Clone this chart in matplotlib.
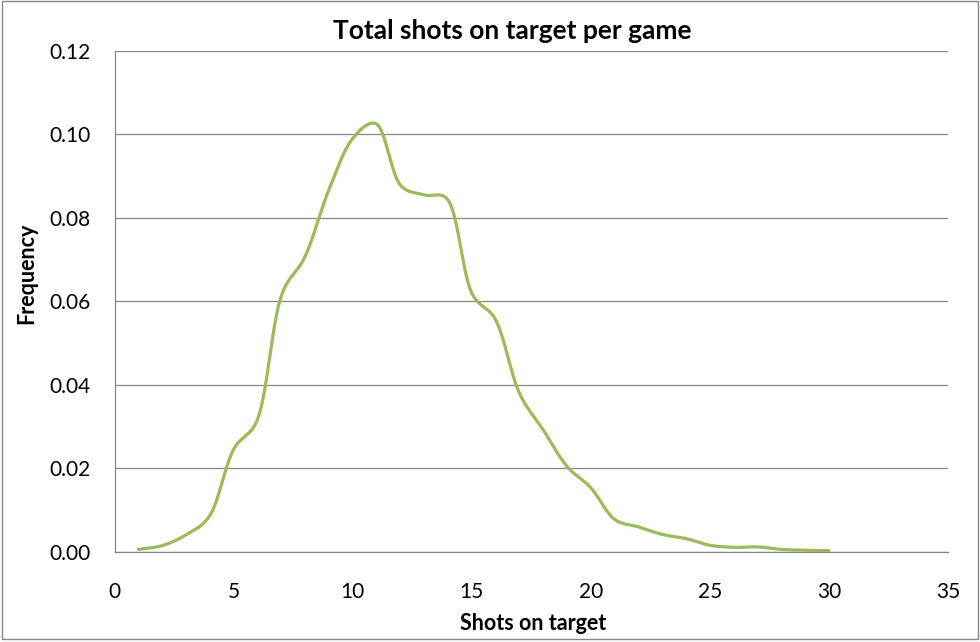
import numpy as np
import matplotlib
matplotlib.use("Agg")
import matplotlib.pyplot as plt
from matplotlib.patches import Rectangle

# ---- data ----
shots = [1, 2, 3, 4, 5, 6, 7, 8, 9, 10, 11, 12, 13, 14, 15,
         16, 17, 18, 19, 20, 21, 22, 23, 24, 25, 26, 27, 28, 29, 30]
frequency = [0.0005, 0.0014, 0.0040, 0.0086, 0.0245, 0.0316, 0.0612, 0.0707,
             0.0867, 0.0990, 0.1025, 0.0879, 0.0855, 0.0843, 0.0620,
             0.0556, 0.0380, 0.0292, 0.0204, 0.0153, 0.0077, 0.0059,
             0.0041, 0.0031, 0.0015, 0.0010, 0.0011, 0.0005, 0.0003, 0.0002]
x_ticks = [0, 5, 10, 15, 20, 25, 30, 35]
y_ticks = [0.00, 0.02, 0.04, 0.06, 0.08, 0.10, 0.12]

title = "Total shots on target per game"
x_label = "Shots on target"
y_label = "Frequency"


def smooth(xs, ys, sx=23.8, sy=4175.0, n=40, alpha=0.3):
    """Catmull-Rom smoothing in screen-like space (Excel-like)."""
    P = np.column_stack([np.asarray(xs, float) * sx, np.asarray(ys, float) * sy])
    first = 2 * P[0] - P[1]
    last = 2 * P[-1] - P[-2]
    P = np.vstack([first, P, last])
    t = np.linspace(0, 1, n, endpoint=False)[:, None]
    out = []
    for i in range(1, len(P) - 2):
        p0, p1, p2, p3 = P[i - 1], P[i], P[i + 1], P[i + 2]
        d01 = max(np.linalg.norm(p1 - p0) ** alpha, 1e-9)
        d12 = max(np.linalg.norm(p2 - p1) ** alpha, 1e-9)
        d23 = max(np.linalg.norm(p3 - p2) ** alpha, 1e-9)
        m1 = ((p1 - p0) / d01 - (p2 - p0) / (d01 + d12) + (p2 - p1) / d12) * d12
        m2 = ((p2 - p1) / d12 - (p3 - p1) / (d12 + d23) + (p3 - p2) / d23) * d12
        c1 = p1 + m1 / 3.0
        c2 = p2 - m2 / 3.0
        seg = ((1 - t) ** 3) * p1 + 3 * ((1 - t) ** 2) * t * c1 + \
            3 * (1 - t) * t ** 2 * c2 + t ** 3 * p2
        out.append(seg)
    out.append(P[-2][None, :])
    out = np.vstack(out)
    return out[:, 0] / sx, out[:, 1] / sy


plt.rcParams['font.family'] = ['Lato', 'DejaVu Sans']

fig = plt.figure(figsize=(9.8, 6.42), dpi=100)
ax = fig.add_axes([114.5 / 980, 1 - 551.5 / 642, (948 - 114.5) / 980, (551.5 - 51) / 642])

lx, ly = smooth(shots, frequency)
ax.plot(lx, ly, color='#9BBB59', lw=2.3, solid_capstyle='round', zorder=3)

ax.set_xlim(0, 35)
ax.set_ylim(0, 0.12)
ax.set_xticks(x_ticks)
ax.set_yticks(y_ticks)
ax.set_xticklabels([str(v) for v in x_ticks])
ax.set_yticklabels([f"{v:.2f}" for v in y_ticks])
ax.tick_params(length=0, labelsize=15, colors='black')
ax.tick_params(axis='x', pad=22)
ax.tick_params(axis='y', pad=17)

ax.grid(axis='y', color='#878787', lw=0.9)
ax.set_axisbelow(True)
ax.spines['right'].set_visible(False)
ax.spines['top'].set_visible(False)
for s in ['left', 'bottom']:
    ax.spines[s].set_color('#878787')
    ax.spines[s].set_linewidth(0.9)

fig.text(512 / 980, 1 - 31 / 642, title, ha='center', va='center',
         fontsize=19, fontweight='bold')
fig.text(533 / 980, 1 - 624 / 642, x_label, ha='center', va='center',
         fontsize=15.5, fontweight='bold')
fig.text(27 / 980, 1 - 273 / 642, y_label, ha='center', va='center',
         rotation=90, fontsize=15.5, fontweight='bold')

fig.patches.append(Rectangle((2 / 980, 1 - 639 / 642), 976 / 980, 638 / 642,
                             transform=fig.transFigure, fill=False,
                             edgecolor='#878787', lw=1.0))

fig.savefig('out.png', dpi=100, facecolor='white')
